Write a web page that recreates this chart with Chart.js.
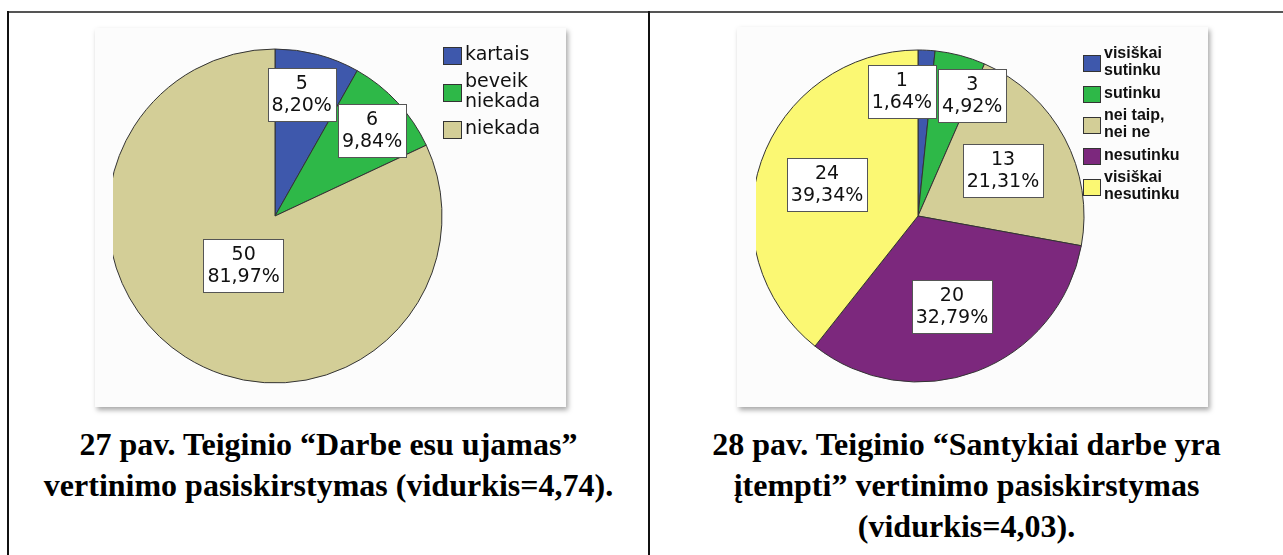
<!DOCTYPE html>
<html lang="lt">
<head>
<meta charset="utf-8">
<title>Teiginių vertinimo pasiskirstymas</title>
<script src="https://cdn.jsdelivr.net/npm/chart.js@4.4.0/dist/chart.umd.min.js"></script>
<style>
  body { margin: 0; width: 1283px; height: 555px; background: #fff; position: relative; overflow: hidden; }
  .hline { position: absolute; left: 7px; top: 11px; width: 1276px; height: 2px; background: #555; }
  .vline { position: absolute; top: 11px; width: 2px; height: 544px; background: #111; }
  .box { position: absolute; background: #fcfcfc; box-shadow: 2px 3px 5px rgba(0,0,0,.35); }
  .clip { position: absolute; top: 0; overflow: hidden; }
  .caption { position: absolute; top: 424px; font-family: 'Liberation Serif', 'Times New Roman', serif; font-weight: bold;
             font-size: 32px; line-height: 41px; text-align: center; color: #000; white-space: nowrap; }
</style>
</head>
<body>
<div class="hline"></div>
<div class="vline" style="left:7px"></div>
<div class="vline" style="left:648px"></div>

<div class="box" style="left:95px; top:28px; width:471px; height:379px;">
  <div class="clip" style="left:18px; width:453px; height:379px;">
    <canvas id="chart27" width="453" height="379"></canvas>
  </div>
</div>
<div class="box" style="left:737px; top:27px; width:471px; height:380px;">
  <div class="clip" style="left:19px; width:452px; height:380px;">
    <canvas id="chart28" width="452" height="380"></canvas>
  </div>
</div>

<div class="caption" style="left:9px; width:639px;">27 pav. Teiginio “Darbe esu ujamas”<br>vertinimo pasiskirstymas (vidurkis=4,74).</div>
<div class="caption" style="left:650px; width:633px;">28 pav. Teiginio “Santykiai darbe yra<br>įtempti” vertinimo pasiskirstymas<br>(vidurkis=4,03).</div>

<script>
// SPSS default slice colours
const blue = '#3E58AC', green = '#2EB848', tan = '#D3CE97', purple = '#7C287D', yellow = '#FBF873';

// 27 pav. "Darbe esu ujamas"
const categories27 = ['kartais', 'beveik\nniekada', 'niekada'];
const counts27 = [5, 6, 50];
const colors27 = [blue, green, tan];

// 28 pav. "Santykiai darbe yra įtempti"
const categories28 = ['visiškai\nsutinku', 'sutinku', 'nei taip,\nnei ne', 'nesutinku', 'visiškai\nnesutinku'];
const counts28 = [1, 3, 13, 20, 24];
const colors28 = [blue, green, tan, purple, yellow];

function pct(v, total) {
    return (v / total * 100).toFixed(2).replace('.', ',') + '%';
}

// white boxes with count and percent, like SPSS
const sliceLabels = {
    id: 'sliceLabels',
    afterDatasetsDraw(chart) {
        const ctx = chart.ctx;
        const meta = chart.getDatasetMeta(0);
        const values = chart.data.datasets[0].data;
        const total = values.reduce((a, b) => a + b, 0);
        ctx.save();
        ctx.font = '19px "DejaVu Sans"';
        const boxes = meta.data.map((arc, i) => {
            const p = arc.getProps(['x', 'y', 'startAngle', 'endAngle', 'outerRadius'], true);
            const mid = (p.startAngle + p.endAngle) / 2;
            const frac = values[i] / total;
            const f = frac < 0.1 ? 0.75 : (frac > 0.5 ? 0.35 : 0.58);
            const lines = [String(values[i]), pct(values[i], total)];
            const w = Math.max(...lines.map(t => ctx.measureText(t).width)) + 8;
            return { cx: p.x + Math.cos(mid) * p.outerRadius * f, cy: p.y + Math.sin(mid) * p.outerRadius * f, w: w, h: 53, lines: lines };
        });
        // push overlapping boxes apart sideways
        for (let pass = 0; pass < 10; pass++) {
            for (let i = 0; i < boxes.length; i++) {
                for (let j = i + 1; j < boxes.length; j++) {
                    const a = boxes[i], b = boxes[j];
                    const ox = (a.w + b.w) / 2 - Math.abs(a.cx - b.cx);
                    const oy = (a.h + b.h) / 2 - Math.abs(a.cy - b.cy);
                    if (ox > 0 && oy > 0) {
                        const s = (ox + 2) / 2;
                        const dir = a.cx <= b.cx ? -1 : 1;
                        a.cx += dir * s;
                        b.cx -= dir * s;
                    }
                }
            }
        }
        boxes.forEach(b => {
            const x = Math.round(b.cx - b.w / 2) + 0.5, y = Math.round(b.cy - b.h / 2) + 0.5;
            ctx.fillStyle = '#fff';
            ctx.fillRect(x, y, Math.round(b.w), b.h);
            ctx.strokeStyle = '#555';
            ctx.lineWidth = 1;
            ctx.strokeRect(x, y, Math.round(b.w), b.h);
            ctx.fillStyle = '#111';
            ctx.textAlign = 'center';
            ctx.textBaseline = 'middle';
            ctx.fillText(b.lines[0], b.cx, b.cy - 10.5);
            ctx.fillText(b.lines[1], b.cx, b.cy + 11.5);
        });
        ctx.restore();
    }
};

// legend on the right side with multi-line labels
const sideLegend = {
    id: 'sideLegend',
    afterDraw(chart, args, opts) {
        const ctx = chart.ctx;
        const ds = chart.data.datasets[0];
        let top = opts.top;
        ctx.save();
        ctx.font = opts.font;
        ctx.textAlign = 'left';
        ctx.textBaseline = 'middle';
        chart.data.labels.forEach((label, i) => {
            const lines = label.split('\n');
            const h = lines.length * opts.lineHeight;
            const sy = Math.round(top + h / 2 - opts.boxH / 2) + 0.5;
            ctx.fillStyle = ds.backgroundColor[i];
            ctx.fillRect(opts.x + 0.5, sy, opts.boxW, opts.boxH);
            ctx.strokeStyle = '#333';
            ctx.lineWidth = 1;
            ctx.strokeRect(opts.x + 0.5, sy, opts.boxW, opts.boxH);
            ctx.fillStyle = '#111';
            lines.forEach((t, k) => ctx.fillText(t, opts.x + opts.boxW + 4, top + opts.lineHeight * (k + 0.5)));
            top += h + opts.gap;
        });
        ctx.restore();
    }
};

function makePie(id, labels, data, colors, radius, padding, legend) {
    return new Chart(document.getElementById(id).getContext('2d'), {
        type: 'pie',
        data: {
            labels: labels,
            datasets: [{
                data: data,
                backgroundColor: colors,
                borderColor: '#333',
                borderWidth: 1,
                clip: false
            }]
        },
        options: {
            responsive: false,
            animation: false,
            radius: radius,
            layout: { padding: padding },
            plugins: {
                legend: { display: false },
                tooltip: { enabled: false },
                sideLegend: legend
            }
        },
        plugins: [sliceLabels, sideLegend]
    });
}

makePie('chart27', categories27, counts27, colors27, 167,
    { left: 0, right: 129, top: 0, bottom: 3 },
    { x: 330, top: 17.5, lineHeight: 20, gap: 7, boxW: 18, boxH: 17, font: '19px "DejaVu Sans"' });

makePie('chart28', categories28, counts28, colors28, 166,
    { left: 0, right: 128, top: 0, bottom: 2 },
    { x: 327, top: 18.5, lineHeight: 17, gap: 5.5, boxW: 17, boxH: 16, font: 'bold 16px "Liberation Sans"' });
</script>
</body>
</html>
